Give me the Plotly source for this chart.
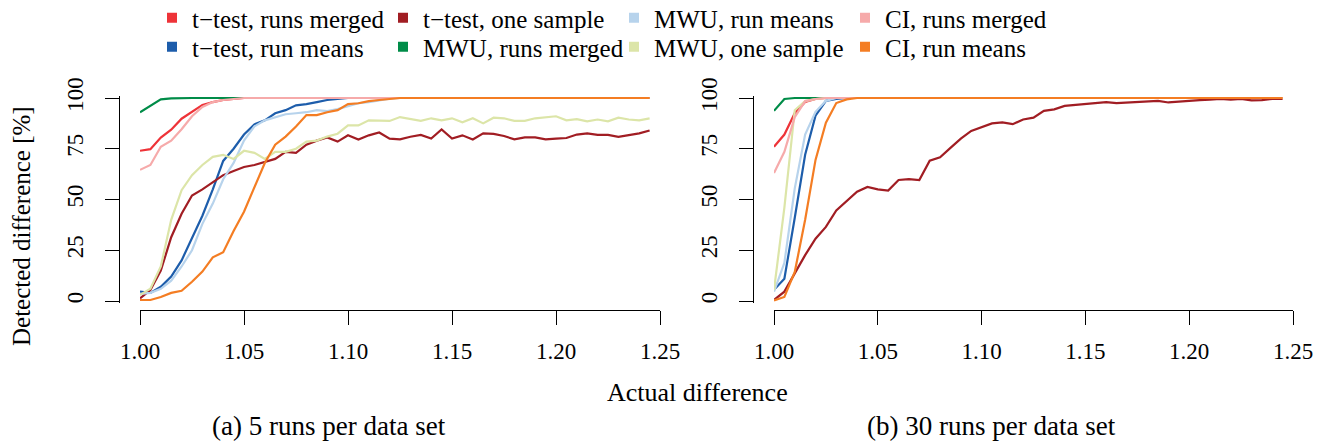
import plotly.graph_objects as go

# ---------------- data ----------------
x_vals = [1.000, 1.005, 1.010, 1.015, 1.020, 1.025, 1.030, 1.035, 1.040, 1.045,
          1.050, 1.055, 1.060, 1.065, 1.070, 1.075, 1.080, 1.085, 1.090, 1.095,
          1.100, 1.105, 1.110, 1.115, 1.120, 1.125, 1.130, 1.135, 1.140, 1.145,
          1.150, 1.155, 1.160, 1.165, 1.170, 1.175, 1.180, 1.185, 1.190, 1.195,
          1.200, 1.205, 1.210, 1.215, 1.220, 1.225, 1.230, 1.235, 1.240, 1.245]

series_names = ["t\u2212test, runs merged", "t\u2212test, run means", "t\u2212test, one sample",
                "MWU, runs merged", "MWU, run means", "MWU, one sample",
                "CI, runs merged", "CI, run means"]
series_colors = ["#EE3338", "#1D5DAB", "#A11D23", "#008C48",
                 "#B7D3EC", "#DCE5A8", "#F6AAAA", "#F47D23"]
legend_row1 = [0, 2, 4, 6]
legend_row2 = [1, 3, 5, 7]

# (a) 5 runs per data set
a_ttest_merged = [74, 74.8, 80.5, 84.4, 89.8, 93, 96.6, 98, 99, 99.5] + [100] * 40
a_ttest_means = [4.6, 4, 7, 12, 20, 31, 42, 55, 69, 75, 82, 87, 89, 92.5, 94, 96.4,
                 97, 98, 99, 99.5] + [100] * 30
a_ttest_one = [1.3, 5.4, 15, 31.4, 43, 52, 55, 58.5, 62, 64, 66, 67, 68.5, 70, 73.5,
               73, 77, 79, 80.6, 78.5, 81.6, 79.5, 81.6, 83, 80, 79.6, 80.9, 81.8, 80,
               84.5, 80, 81.6, 79.6, 82.6, 82.3, 81.3, 79.6, 80.6, 80.6, 79.6, 80,
               80.3, 82, 82.6, 81.8, 81.8, 80.9, 81.8, 82.6, 84]
a_mwu_merged = [93, 96, 99.3, 99.8] + [100] * 46
a_mwu_means = [3.5, 4, 6, 10, 17, 25, 38, 48, 60, 68, 79, 86, 89, 90.5, 92, 92.5, 93,
               94, 93.5, 94.5, 96, 97.4, 98, 99, 99.7] + [100] * 25
a_mwu_one = [3, 6, 17, 40, 54.6, 62, 67, 71, 72, 70, 74, 73, 70, 73.5, 73.5, 75, 78.5,
             79, 81, 82.4, 86.5, 86.5, 89, 89, 88.7, 90.6, 89.6, 88.7, 90, 89, 90, 88,
             90, 87.5, 90.3, 90, 88.7, 88.7, 90, 90.6, 91, 89, 89.6, 88.5, 89.4, 88.5,
             90.3, 89.4, 89, 90]
a_ci_merged = [64.6, 67, 76, 79, 84.6, 91, 95.6, 98, 99, 99.5] + [100] * 40
a_ci_means = [0.5, 0.5, 2, 4, 5, 9.5, 14.5, 21.5, 24, 34.5, 44, 56, 68, 77, 81, 86,
              91.6, 91.6, 93, 94, 97, 97.4, 98.5, 99, 99.5] + [100] * 25

# (b) 30 runs per data set
b_ttest_merged = [76, 82, 92.5, 98, 99.5] + [100] * 45
b_ttest_means = [5.5, 11, 41, 72, 91.3, 98.6, 99.6] + [100] * 43
b_ttest_one = [0.5, 4.6, 13.6, 22.6, 30.7, 36.5, 44.6, 49.2, 53.8, 56.2, 55, 54.4,
               59.6, 60, 59.6, 69.1, 70.8, 75.4, 80, 83.8, 85.8, 87.5, 88, 87.1, 89.4,
               90.3, 93.7, 94.4, 96.1, 96.5, 97, 97.5, 98, 97.5, 97.8, 98, 98.3, 98.6,
               97.8, 98.3, 98.6, 99, 99.2, 99.5, 99.2, 99.6, 98.8, 99, 99.6, 99.5]
b_mwu_merged = [93.7, 99.5] + [100] * 48
b_mwu_means = [4.6, 18.8, 55.5, 82, 93.2, 98.6] + [100] * 44
b_mwu_one = [5.4, 46, 94, 98.5, 99.5] + [100] * 45
b_ci_merged = [63, 73.5, 90.6, 98.5, 99.5] + [100] * 45
b_ci_means = [0.3, 2, 14.3, 40, 69.5, 87.8, 97.5, 99.3] + [100] * 42

panel_a = [a_ttest_merged, a_ttest_means, a_ttest_one, a_mwu_merged,
           a_mwu_means, a_mwu_one, a_ci_merged, a_ci_means]
panel_b = [b_ttest_merged, b_ttest_means, b_ttest_one, b_mwu_merged,
           b_mwu_means, b_mwu_one, b_ci_merged, b_ci_means]

x_ticks = [1.00, 1.05, 1.10, 1.15, 1.20, 1.25]
y_ticks = [0, 25, 50, 75, 100]
y_tick_text = ["0", "25", "50", "75", "100"]

# ---------------- figure ----------------
W, Hh = 1322, 443
FONT = "Liberation Serif, Times New Roman, serif"

fig = go.Figure()
for k in range(8):
    fig.add_trace(go.Scatter(x=x_vals, y=panel_a[k], mode="lines",
                             line=dict(color=series_colors[k], width=2.2),
                             showlegend=False, xaxis="x", yaxis="y",
                             name=series_names[k]))
for k in range(8):
    fig.add_trace(go.Scatter(x=x_vals, y=panel_b[k], mode="lines",
                             line=dict(color=series_colors[k], width=2.2),
                             showlegend=False, xaxis="x2", yaxis="y2",
                             name=series_names[k]))
for row, leg in ((legend_row1, "legend"), (legend_row2, "legend2")):
    for k in row:
        fig.add_trace(go.Scatter(x=[None], y=[None], mode="markers",
                                 marker=dict(symbol="square", size=10,
                                             color=series_colors[k]),
                                 name=series_names[k], showlegend=True,
                                 legend=leg, xaxis="x", yaxis="y"))


def px_x(p):
    return p / W


def px_y(p):
    return 1 - p / Hh


ppu = 2.03  # pixels per percent
y_dom = [px_y(301 + ppu), px_y(98 - ppu)]

TICKF = dict(family=FONT, size=23, color="black")
axis_common = dict(showline=True, linecolor="black", linewidth=1, ticks="outside",
                   ticklen=14, tickwidth=1, tickcolor="black", showgrid=False,
                   zeroline=False, tickfont=TICKF)

LEGF = dict(family=FONT, size=25, color="black")
legend_common = dict(orientation="h", xanchor="left", yanchor="middle",
                     entrywidth=186, entrywidthmode="pixels", font=LEGF,
                     bgcolor="rgba(0,0,0,0)", itemwidth=30)


def label(text, x, y, size, angle=0):
    return dict(text=text, x=px_x(x), y=px_y(y), xref="paper", yref="paper",
                xanchor="center", yanchor="middle", showarrow=False,
                textangle=angle, font=dict(family=FONT, size=size, color="black"))


fig.update_layout(
    width=W, height=Hh,
    margin=dict(l=0, r=0, t=0, b=0, pad=0, autoexpand=False),
    paper_bgcolor="white", plot_bgcolor="white",
    font=dict(family=FONT, size=23, color="black"),
    xaxis=dict(domain=[px_x(140), px_x(660)], range=[1.0, 1.25], anchor="free",
               position=px_y(310), tickvals=x_ticks, tickformat=".2f",
               ticklabelstandoff=6, **axis_common),
    xaxis2=dict(domain=[px_x(774), px_x(1293)], range=[1.0, 1.25], anchor="free",
                position=px_y(310), tickvals=x_ticks, tickformat=".2f",
                ticklabelstandoff=6, **axis_common),
    yaxis=dict(domain=y_dom, range=[-1, 101], anchor="free", position=px_x(119),
               tickvals=y_ticks, ticktext=y_tick_text, tickangle=-90,
               ticklabelstandoff=13, **axis_common),
    yaxis2=dict(domain=y_dom, range=[-1, 101], anchor="free", position=px_x(753),
                tickvals=y_ticks, ticktext=y_tick_text, tickangle=-90,
                ticklabelstandoff=13, **axis_common),
    legend=dict(x=px_x(152), y=px_y(18), **legend_common),
    legend2=dict(x=px_x(152), y=px_y(47), **legend_common),
    annotations=[
        label("Detected difference [%]", 22, 226, 25, angle=-90),
        label("Actual difference", 697, 392, 26),
        label("(a) 5 runs per data set", 329, 426, 27),
        label("(b) 30 runs per data set", 991, 426, 27),
    ],
)

fig.write_html("out.html",
               config={"displayModeBar": False},
               post_script="document.body.style.margin='0';"
                           "document.body.style.overflow='hidden';")
